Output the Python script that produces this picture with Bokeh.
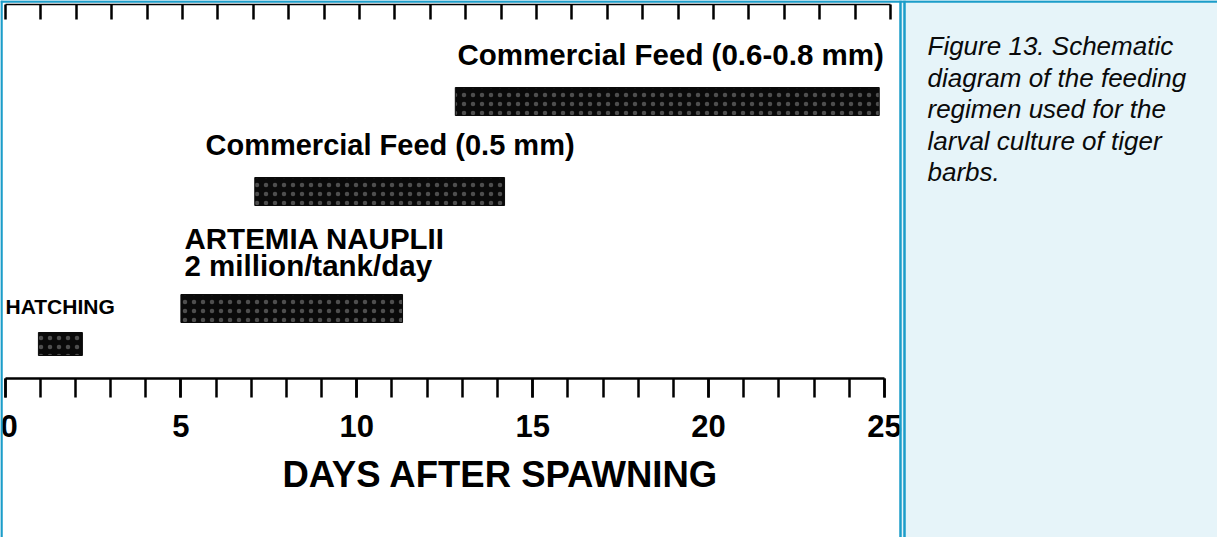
from bokeh.plotting import figure
from bokeh.models import (ColumnDataSource, Range1d, LinearAxis, FixedTicker, Span,
                          BoxAnnotation, Label)
from bokeh.core.properties import value
from bokeh.embed import file_html
from bokeh.resources import INLINE

# ---------------- data ----------------
feeds = ["HATCHING", "ARTEMIA NAUPLII", "Commercial Feed (0.5 mm)", "Commercial Feed (0.6-0.8 mm)"]
start_day = [0.95, 5.0, 7.1, 12.8]
end_day = [2.2, 11.3, 14.2, 24.85]
artemia_note = "2 million/tank/day"
day_ticks = [0, 5, 10, 15, 20, 25]
day_minor = list(range(0, 26))
x_title = "DAYS AFTER SPAWNING"
caption_lines = ["Figure 13. Schematic", "diagram of the feeding", "regimen used for the",
                 "larval culture of tiger", "barbs."]

# ---------------- layout ----------------
W, H = 1217, 537
PAGE = 8
X0, PPD = 12.5, 35.18          # bottom-axis: page px of day 0, px per day
XT0, PPDT = 13.0, 35.4         # top-axis (scan is slightly skewed)
BLUE = "#1b9dc9"
PANEL = "#e6f4f9"
FONT = "Liberation Sans"
BASE_FIX = 0.36                # baseline correction (fraction of font size)


def day_at(px):
    return (px - X0) / PPD


def yrow(py):
    return py - PAGE


def ytext(py, size):
    return py - PAGE - BASE_FIX * size


bar_center_px = [351.5, 316, 199, 109]
bar_height_px = [23, 28, 28, 28]
label_pos_px = [(13, 322), (192, 257), (213, 163), (465, 73)]
label_size = [21, 29.5, 29, 29.5]
note_pos_px = (192, 284)
title_pos_px = (290, 495)
caption_x_px, caption_y0_px, caption_dy = 935, 63, 31.5

p = figure(width=W, height=H, output_backend="svg", toolbar_location=None,
           x_range=Range1d(day_at(PAGE), day_at(PAGE + W)),
           y_range=Range1d(H, 0),
           x_axis_location=None, y_axis_location=None,
           min_border=0, min_border_left=0, min_border_right=0,
           min_border_top=0, min_border_bottom=0)
p.outline_line_color = None
p.background_fill_color = "white"
p.border_fill_color = "white"
p.grid.visible = False
p.extra_x_ranges = {"top": Range1d((PAGE - XT0) / PPDT, (PAGE + W - XT0) / PPDT)}

# caption panel background and borders
p.add_layout(BoxAnnotation(left=day_at(909.5), fill_color=PANEL, fill_alpha=1.0,
                           line_color=None, level="underlay"))
for xp in (9, 908, 912):
    p.add_layout(Span(location=day_at(xp), dimension="height", line_color=BLUE, line_width=2.5))
p.add_layout(Span(location=yrow(9), dimension="width", line_color=BLUE, line_width=2.5))

# bars
src = ColumnDataSource(dict(
    left=start_day, right=end_day,
    y=[yrow(v) for v in bar_center_px], h=bar_height_px))
p.hbar(y="y", left="left", right="right", height="h", source=src,
       fill_color="#0a0a0a", line_color="#0a0a0a", line_width=1,
       hatch_pattern="dot", hatch_color="white", hatch_alpha=0.28,
       hatch_scale=9, hatch_weight=1)

# labels
lab = ColumnDataSource(dict(
    x=[day_at(a) for a, b in label_pos_px],
    y=[ytext(b, s) for (a, b), s in zip(label_pos_px, label_size)],
    text=feeds, size=[f"{s}px" for s in label_size]))
p.text(x="x", y="y", text="text", source=lab, text_font=value(FONT),
       text_font_style="bold", text_font_size="size", text_color="black",
       text_align="left", text_baseline="alphabetic")
p.add_layout(Label(x=day_at(note_pos_px[0]), y=ytext(note_pos_px[1], 29.5), text=artemia_note,
                   text_font=FONT, text_font_style="bold", text_font_size="29.5px",
                   text_color="black", text_align="left", text_baseline="alphabetic"))
p.add_layout(Label(x=day_at(title_pos_px[0]), y=ytext(title_pos_px[1], 36.5), text=x_title,
                   text_font=FONT, text_font_style="bold", text_font_size="36.5px",
                   text_color="black", text_align="left", text_baseline="alphabetic"))

# caption
cap = ColumnDataSource(dict(
    x=[day_at(caption_x_px)] * len(caption_lines),
    y=[ytext(caption_y0_px + i * caption_dy, 26) for i in range(len(caption_lines))],
    text=caption_lines))
p.text(x="x", y="y", text="text", source=cap, text_font=value(FONT),
       text_font_style="italic", text_font_size="26px", text_color="#0a0a0a",
       text_align="left", text_baseline="alphabetic")

# bottom axis
xb = LinearAxis(fixed_location=yrow(386), bounds=(0, 25),
                ticker=FixedTicker(ticks=day_ticks, minor_ticks=day_minor),
                axis_line_width=2.5, axis_line_color="black",
                major_tick_in=0, major_tick_out=19, minor_tick_in=0, minor_tick_out=19,
                major_tick_line_width=2.5, minor_tick_line_width=2.5,
                major_tick_line_color="black", minor_tick_line_color="black",
                major_label_text_font=FONT, major_label_text_font_style="bold",
                major_label_text_font_size="31px", major_label_text_color="black",
                major_label_standoff=17)
p.add_layout(xb, "below")

# top axis (ticks only)
xt = LinearAxis(x_range_name="top", fixed_location=yrow(12), bounds=(0, 25),
                ticker=FixedTicker(ticks=[], minor_ticks=day_minor),
                axis_line_width=1.5, axis_line_color="black",
                major_tick_in=0, major_tick_out=0, minor_tick_in=15, minor_tick_out=0,
                minor_tick_line_width=2.5, minor_tick_line_color="black",
                major_label_text_font_size="0px")
p.add_layout(xt, "above")

open("out.html", "w").write(file_html(p, INLINE))
